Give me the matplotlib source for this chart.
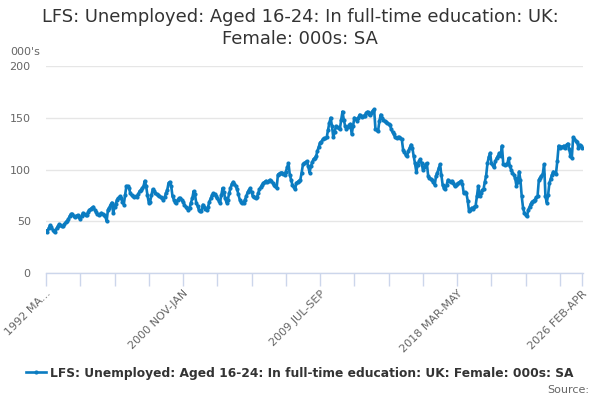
import matplotlib
matplotlib.use("Agg")
import matplotlib.pyplot as plt
import numpy as np

title = "LFS: Unemployed: Aged 16-24: In full-time education: UK:\nFemale: 000s: SA"
series_name = "LFS: Unemployed: Aged 16-24: In full-time education: UK: Female: 000s: SA"
y_unit = "000's"

tick_labels = {0: "1992 MA...", 104: "2000 NOV-JAN", 208: "2009 JUL-SEP",
               312: "2018 MAR-MAY", 407: "2026 FEB-APR"}

values = [
    41, 40, 43, 46, 44, 42, 41, 40, 43, 45,
    47, 46, 45, 45, 47, 49, 50, 52, 55, 57,
    57, 55, 54, 55, 56, 54, 52, 55, 58, 57,
    56, 56, 59, 61, 62, 63, 64, 61, 59, 57,
    56, 57, 58, 57, 56, 55, 50, 61, 63, 66,
    68, 58, 64, 67, 71, 72, 74, 72, 69, 66,
    75, 84, 84, 82, 77, 75, 74, 73, 74, 73,
    76, 79, 80, 82, 84, 89, 84, 75, 68, 69,
    75, 81, 79, 77, 76, 75, 74, 73, 72, 71,
    73, 77, 80, 87, 88, 84, 74, 71, 69, 68,
    71, 72, 72, 71, 69, 66, 64, 63, 61, 63,
    68, 72, 79, 76, 68, 65, 61, 60, 60, 66,
    64, 62, 61, 64, 69, 72, 75, 77, 76, 74,
    72, 70, 68, 75, 82, 78, 72, 68, 71, 77,
    82, 86, 88, 86, 84, 81, 76, 71, 69, 68,
    68, 71, 74, 78, 80, 82, 78, 74, 73, 72,
    73, 77, 81, 83, 85, 87, 88, 89, 88, 89,
    90, 89, 87, 85, 84, 82, 95, 96, 97, 97,
    96, 95, 98, 102, 106, 95, 90, 85, 83, 81,
    87, 88, 89, 90, 97, 105, 106, 107, 108, 103,
    97, 103, 107, 110, 111, 113, 118, 122, 126, 127,
    129, 130, 130, 131, 138, 145, 150, 142, 131, 136,
    142, 141, 140, 139, 148, 156, 148, 142, 139, 141,
    143, 144, 134, 142, 150, 149, 147, 150, 153, 152,
    151, 152, 152, 155, 156, 154, 153, 155, 157, 158,
    139, 138, 137, 147, 153, 150, 148, 147, 146, 145,
    144, 143, 139, 136, 134, 131, 130, 131, 131, 130,
    129, 119, 117, 114, 113, 118, 121, 124, 121, 113,
    106, 98, 104, 108, 110, 106, 100, 102, 105, 106,
    94, 92, 91, 90, 88, 85, 94, 97, 101, 105,
    95, 85, 82, 81, 85, 90, 89, 88, 89, 87,
    84, 85, 86, 87, 88, 89, 86, 77, 78, 77,
    70, 60, 61, 63, 62, 64, 65, 74, 84, 74,
    77, 80, 81, 88, 94, 106, 112, 116, 106, 104,
    102, 108, 111, 113, 116, 113, 123, 105, 104, 105,
    105, 111, 103, 100, 97, 95, 92, 84, 88, 98,
    90, 74, 63, 58, 56, 55, 61, 64, 67, 69,
    70, 71, 73, 74, 90, 92, 94, 96, 105, 74,
    68, 75, 87, 91, 95, 98, 97, 96, 108, 123,
    121, 122, 122, 123, 121, 124, 125, 120, 113, 111,
    131, 129, 128, 127, 121, 124, 123, 121,
]

line_color = "#0b7cc1"
grid_color = "#e6e6e6"
axis_color = "#ccd6eb"
text_color = "#666666"

fig = plt.figure(figsize=(6, 4), dpi=100)
ax = fig.add_axes([46/600, 1-273/400, (583-46)/600, (273-66)/400])

x = np.arange(len(values))
ax.plot(x, values, color=line_color, lw=1.9, marker="o", ms=3.0,
        markeredgewidth=0, label=series_name, zorder=3)

ax.set_xlim(0, len(values) - 1 + 0.5)
ax.set_ylim(0, 200)
ax.set_yticks([0, 50, 100, 150, 200])
ax.yaxis.grid(True, color=grid_color, lw=1)
ax.set_axisbelow(True)
for s in ["top", "right", "left"]:
    ax.spines[s].set_visible(False)
ax.spines["bottom"].set_color(axis_color)
ax.spines["bottom"].set_linewidth(1)
ax.tick_params(axis="y", length=0, labelsize=8, labelcolor=text_color, pad=11)

major = list(range(0, len(values), 26)) + [len(values) - 1]
ax.set_xticks(major)
ax.set_xticklabels([tick_labels.get(m, "") for m in major], rotation=45,
                   ha="right", rotation_mode="anchor", fontsize=8, color=text_color)
ax.tick_params(axis="x", length=9, color=axis_color, width=1, pad=2)

fig.text(300/600, 1-28/400, title, ha="center", va="center", fontsize=12.85,
         color="#333333", linespacing=1.25)
fig.text(10/600, 1-52/400, y_unit, ha="left", va="center", fontsize=8, color=text_color)

leg = fig.legend(loc="center", bbox_to_anchor=(0.5, 1-373/400), frameon=False,
                 prop={"weight": "bold", "size": 8.8}, handlelength=1.6,
                 handletextpad=0.4, borderaxespad=0)
for t in leg.get_texts():
    t.set_color("#333333")
fig.text(589/600, 1-390/400, "Source:", ha="right", va="center", fontsize=8, color=text_color)

fig.savefig("out.png", dpi=100)
